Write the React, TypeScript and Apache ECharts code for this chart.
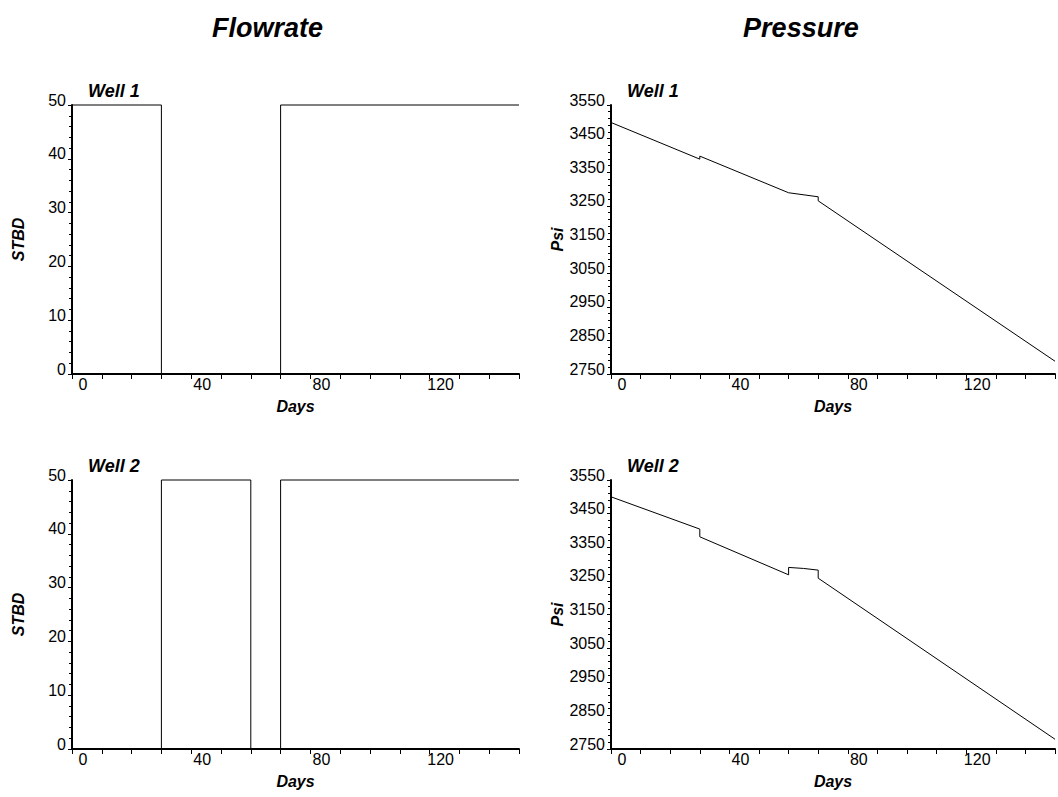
import React, { useEffect, useRef } from "react";
import * as echarts from "echarts";

const well1FlowDays = [0, 30, 30, 70, 70, 150];
const well1FlowRate = [50, 50, 0, 0, 50, 50];
const well2FlowDays = [0, 30, 30, 60, 60, 70, 70, 150];
const well2FlowRate = [0, 0, 50, 50, 0, 0, 50, 50];

const well1PressDays = [0, 30, 30, 60, 70, 70, 150];
const well1Psi = [3498, 3389, 3398, 3289, 3277, 3265, 2788];
const well2PressDays = [0, 30, 30, 60, 60, 65, 70, 70, 150];
const well2Psi = [3500, 3404, 3381, 3268, 3290, 3287, 3282, 3258, 2779];

const xTicks = { min: 0, max: 150, step: 10, labelStep: 40 };
const flowTicks = { min: 0, max: 50, step: 10 };
const psiTicks = { min: 2750, max: 3550, step: 100 };

const panelTitles = ["Flowrate", "Pressure"];
const wellNames = ["Well 1", "Well 2"];

const FONT = "Liberation Sans, Arial, sans-serif";

export default function App() {
  const ref = useRef<HTMLDivElement>(null);
  useEffect(() => {
    if (!ref.current) return;
    const chart = echarts.init(ref.current, null, { renderer: "svg" });
    const gridW = 447;
    const gridH = 269;
    const lefts = [72, 611];
    const tops = [105, 480];
    const grids: any[] = [];
    const xAxes: any[] = [];
    const yAxes: any[] = [];
    const series: any[] = [];
    const graphics: any[] = [];

    const toPairs = (xs: number[], ys: number[]) => xs.map((x, i) => [x, ys[i]]);
    const flowData = [toPairs(well1FlowDays, well1FlowRate), toPairs(well2FlowDays, well2FlowRate)];
    const psiData = [toPairs(well1PressDays, well1Psi), toPairs(well2PressDays, well2Psi)];

    let idx = 0;
    for (let r = 0; r < 2; r++) {
      for (let c = 0; c < 2; c++) {
        grids.push({ left: lefts[c], top: tops[r], width: gridW, height: gridH, containLabel: false });
        xAxes.push({
          type: "value",
          gridIndex: idx,
          min: xTicks.min,
          max: xTicks.max,
          interval: xTicks.step,
          name: "Days",
          nameLocation: "middle",
          nameGap: 24,
          nameTextStyle: { fontFamily: FONT, fontSize: 16, fontWeight: "bold", fontStyle: "italic", color: "#000" },
          axisLine: { show: true, onZero: false, lineStyle: { color: "#000", width: 2 } },
          axisTick: { show: true, length: 5, lineStyle: { color: "#000", width: 1 } },
          axisLabel: {
            show: true,
            showMinLabel: true,
            showMaxLabel: true,
            margin: 2,
            padding: [0, 0, 0, 22],
            fontFamily: FONT,
            fontSize: 16,
            color: "#000",
            formatter: (v: number) => (v % xTicks.labelStep === 0 && v < xTicks.max ? String(v) : ""),
          },
          splitLine: { show: false },
        });
        const isFlow = c === 0;
        const t = isFlow ? flowTicks : psiTicks;
        yAxes.push({
          type: "value",
          gridIndex: idx,
          min: t.min,
          max: t.max,
          interval: t.step,
          name: isFlow ? "STBD" : "Psi",
          nameLocation: "middle",
          nameGap: 46,
          nameTextStyle: { fontFamily: FONT, fontSize: 16, fontWeight: "bold", fontStyle: "italic", color: "#000" },
          axisLine: { show: true, onZero: false, lineStyle: { color: "#000", width: 2 } },
          axisTick: { show: true, length: 4, lineStyle: { color: "#000", width: 1 } },
          minorTick: { show: true, splitNumber: 5, length: 3, lineStyle: { color: "#000", width: 1 } },
          axisLabel: {
            show: true,
            showMinLabel: true,
            showMaxLabel: true,
            margin: 6,
            verticalAlign: "bottom",
            lineHeight: 10,
            fontFamily: FONT,
            fontSize: 16,
            color: "#000",
            formatter: (v: number) => String(v),
          },
          splitLine: { show: false },
        });
        series.push({
          type: "line",
          xAxisIndex: idx,
          yAxisIndex: idx,
          data: isFlow ? flowData[r] : psiData[r],
          symbol: "none",
          clip: false,
          lineStyle: { color: "#000", width: 1 },
        });
        graphics.push({
          type: "text",
          left: lefts[c] + 16,
          top: tops[r] - 23,
          style: {
            text: wellNames[r],
            fontFamily: FONT,
            fontSize: 18,
            fontWeight: "bold",
            fontStyle: "italic",
            fill: "#000",
          },
        });
        idx++;
      }
    }
    panelTitles.forEach((t, c) => {
      graphics.push({
        type: "text",
        x: lefts[c] + gridW / 2 - 28 * (c === 0 ? 1 : 1.2),
        y: 28,
        style: {
          text: t,
          fontFamily: FONT,
          fontSize: 27,
          fontWeight: "bold",
          fontStyle: "italic",
          fill: "#000",
          align: "center",
          verticalAlign: "middle",
        },
      });
    });

    chart.setOption({
      animation: false,
      backgroundColor: "#fff",
      grid: grids,
      xAxis: xAxes,
      yAxis: yAxes,
      series,
      graphic: graphics,
    });
    return () => chart.dispose();
  }, []);
  return (
    <div
      ref={ref}
      style={{ position: "fixed", left: 0, top: 0, width: 1058, height: 797, background: "#fff" }}
    />
  );
}
